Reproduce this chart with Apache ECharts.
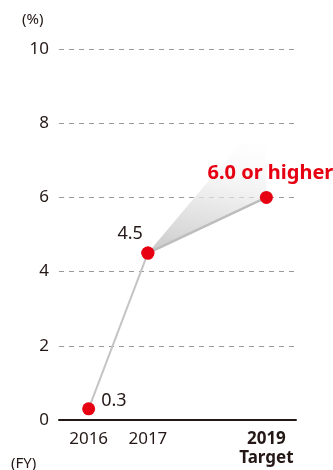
<!DOCTYPE html>
<html><head><meta charset="utf-8">
<script src="https://cdn.jsdelivr.net/npm/echarts@6/dist/echarts.min.js"></script>
<style>html,body{margin:0;padding:0;background:#fff}#c{width:333px;height:470px}</style>
</head><body><div id="c"></div>
<script>
const categories = ['2016', '2017', '2018', '2019'];
const actualValues = [0.3, 4.5, null, null];
const targetValues = [null, 4.5, null, 6.0];
const fanUpperValues = [null, 4.5, null, 8.3];
const yTicks = [0, 2, 4, 6, 8, 10];
const targetLabel = '6.0 or higher';

const FONT = 'Noto Sans';
const INK = '#231815';
const RED = '#e60012';

const chart = echarts.init(document.getElementById('c'), null, {renderer: 'canvas'});

// fan polygon data: [fromIdx, fromVal, toIdx, upperVal, lowerVal]
const fanData = [[1, targetValues[1], 3, fanUpperValues[3], targetValues[3]]];

chart.setOption({
  animation: false,
  grid: {left: 59, right: 37, top: 49, bottom: 50, containLabel: false},
  xAxis: {
    type: 'category',
    data: categories,
    boundaryGap: true,
    axisLine: {lineStyle: {color: INK, width: 2}},
    axisTick: {show: false},
    splitLine: {show: false},
    axisLabel: {
      interval: 0,
      margin: 10,
      color: INK,
      fontFamily: FONT,
      fontSize: 17,
      lineHeight: 19,
      formatter: function (v) {
        if (v === '2018') return '';
        if (v === '2019') return '{b|2019}\n{b|Target}';
        return v;
      },
      rich: {b: {fontWeight: 'bold', fontSize: 17, fontFamily: FONT, color: INK, lineHeight: 19}}
    }
  },
  yAxis: {
    type: 'value',
    min: yTicks[0],
    max: yTicks[yTicks.length - 1],
    interval: 2,
    axisLine: {show: false},
    axisTick: {show: false},
    axisLabel: {margin: 10, color: INK, fontFamily: FONT, fontSize: 17},
    splitLine: {lineStyle: {color: '#9a9a9a', width: 1, type: [5, 5]}}
  },
  graphic: [
    {type: 'text', left: 22, top: 12, style: {text: '(%)', fill: INK, font: '15px "Noto Sans"'}},
    {type: 'text', left: 11, top: 456, style: {text: '(FY)', fill: INK, font: '15px "Noto Sans"'}}
  ],
  series: [
    {
      type: 'custom',
      z: 1,
      data: fanData,
      renderItem: function (params, api) {
        const a = api.coord([api.value(0), api.value(1)]);
        const b = api.coord([api.value(2), api.value(3)]);
        const c = api.coord([api.value(2), api.value(4)]);
        return {
          type: 'polygon',
          shape: {points: [a, b, c]},
          style: {
            fill: new echarts.graphic.LinearGradient(0, 1, 0.25, 0, [
              {offset: 0, color: 'rgba(195,195,195,0.9)'},
              {offset: 0.45, color: 'rgba(228,228,228,0.75)'},
              {offset: 1, color: 'rgba(255,255,255,0)'}
            ])
          }
        };
      }
    },
    {
      type: 'line',
      z: 3,
      data: targetValues,
      connectNulls: true,
      lineStyle: {color: '#bdbdbd', width: 2.5},
      symbol: 'circle',
      symbolSize: 13,
      itemStyle: {color: RED},
      label: {
        show: true,
        fontFamily: FONT,
        formatter: function (p) { return p.dataIndex === 3 ? targetLabel : ''; },
        position: 'top',
        offset: [4, -3],
        color: RED,
        fontWeight: 'bold',
        fontSize: 20
      }
    },
    {
      type: 'line',
      z: 4,
      data: actualValues,
      lineStyle: {color: '#c4c4c4', width: 2},
      symbol: 'circle',
      symbolSize: 13,
      itemStyle: {color: RED},
      label: {
        show: true,
        fontFamily: FONT,
        color: INK,
        fontSize: 18,
        formatter: function (p) { return p.value == null ? '' : String(p.value); }
      },
      labelLayout: function (p) {
        if (p.dataIndex === 0) return {x: p.rect.x + 19, y: p.rect.y - 10};
        return {x: p.rect.x - 24, y: p.rect.y - 22};
      }
    }
  ]
});
</script></body></html>
